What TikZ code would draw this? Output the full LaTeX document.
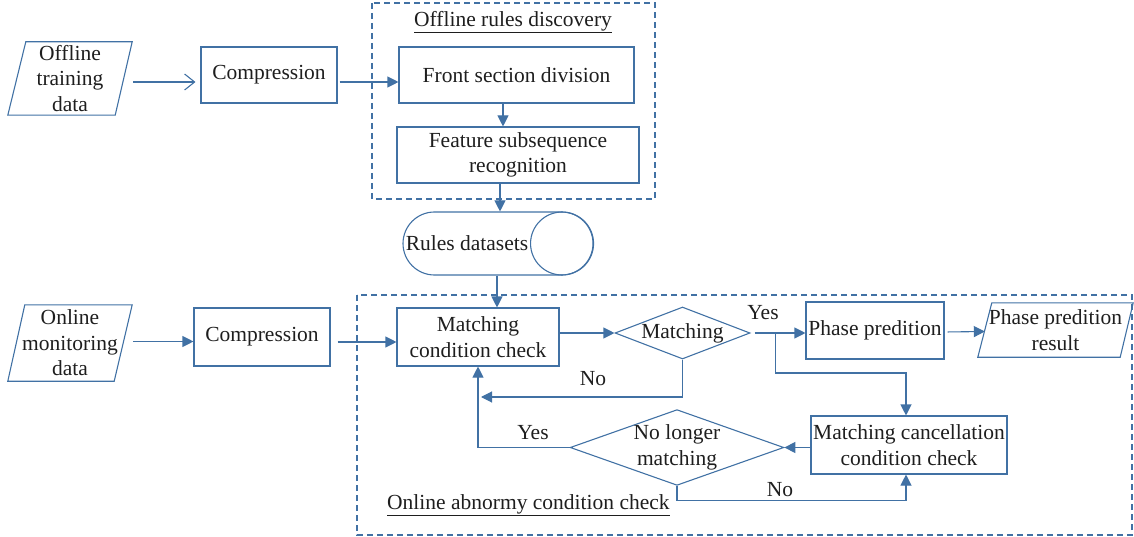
\documentclass[tikz,border=0pt]{standalone}
\usepackage{fontspec}
\setmainfont{Liberation Serif}
\usetikzlibrary{shapes.geometric,arrows.meta,calc}
\definecolor{lc}{RGB}{65,113,164}
\definecolor{tc}{RGB}{30,30,30}
\begin{document}
\begin{tikzpicture}[x=1pt,y=-1pt,
  line/.style={draw=lc, line width=1.1pt},
  arr/.style={line, -{Triangle[length=11pt,width=11pt]}},
  oarr/.style={line, -{Straight Barb[length=10pt,width=16pt,line width=1.1pt]}},
  box/.style={line, rectangle, inner sep=0pt, align=center},
  dia/.style={line, diamond, inner sep=0pt, align=center},
  txt/.style={inner sep=0pt, align=center},
  frame/.style={draw=lc, line width=1.1pt, dash pattern=on 6pt off 4pt},
  font=\fontsize{21.5}{25.5}\selectfont, text=tc]

\useasboundingbox (0,0) rectangle (1134,537);

% frames
\draw[frame] (372,3) rectangle (655,199);
\draw[frame] (357,295) rectangle (1132,535);

% offline part
\node[txt, minimum width=124pt, minimum height=73pt] (otd) at (70,78.5) {Offline\\training\\data};
\node[box, minimum width=136pt, minimum height=56pt] (comp1) at (269,75) {Compression};
\node[box, minimum width=235pt, minimum height=56pt] (front) at (516.5,75) {Front section division};
\node[box, minimum width=242pt, minimum height=56pt] (feat) at (518,155) {Feature subsequence\\recognition};
\node[txt] (t1) at (513,22) {\underline{Offline rules discovery}};
\node[line, rounded corners=31.5pt, minimum width=190pt, minimum height=63pt, inner sep=0pt] (rules) at (498,243.5) {Rules datasets\hspace*{62pt}};
\draw[line] ([xshift=-31.5pt]rules.east) circle[radius=31.5pt];

% online part
\node[txt, minimum width=124pt, minimum height=76pt] (omd) at (70,343) {Online\\monitoring\\data};
\node[box, minimum width=136pt, minimum height=58pt] (comp2) at (262,337) {Compression};
\node[box, minimum width=162pt, minimum height=58pt] (mcc) at (478,337) {Matching\\condition check};
\node[dia, minimum width=135pt, minimum height=52pt, aspect=2.6] (match) at (682.5,333) {Matching};
\node[box, minimum width=138pt, minimum height=57pt] (pp) at (875,330.5) {Phase predition};
\node[txt, minimum width=155pt, minimum height=54pt] (ppr) at (1055.5,330) {Phase predition\\result};
\node[box, minimum width=196pt, minimum height=58pt] (mcnc) at (909,445) {Matching cancellation\\condition check};
\node[dia, minimum width=206pt, minimum height=73pt, aspect=2.82] (nlm) at (677,447.5) {No longer\\matching};
\node[txt, anchor=west] (t2) at (387,505) {\underline{Online abnormy condition check}};
\node[txt] (yes1) at (763,313) {Yes};
\node[txt] (no1) at (593,379) {No};
\node[txt] (yes2) at (533,433) {Yes};
\node[txt] (no2) at (780,490) {No};
\coordinate (noend) at (481,397);

% parallelograms
\draw[line] (otd.south west) -- ([xshift=18pt]otd.north west) -- (otd.north east) -- ([xshift=-17pt]otd.south east) -- cycle;
\draw[line] (omd.south west) -- ([xshift=17pt]omd.north west) -- (omd.north east) -- ([xshift=-18pt]omd.south east) -- cycle;
\draw[line] (ppr.south west) -- ([xshift=14pt]ppr.north west) -- (ppr.north east) -- ([xshift=-13pt]ppr.south east) -- cycle;

% connectors offline
\draw[oarr, shorten <=1pt, shorten >=5pt] ([yshift=-3.5pt]otd.east) -- ([yshift=-7pt]comp1.west);
\draw[arr, shorten <=2pt] ([yshift=-7pt]comp1.east) -- ([yshift=-7pt]front.west);
\draw[arr] ([xshift=-13.5pt]front.south) -- ([xshift=-13.5pt]front.south |- feat.north);
\draw[arr] ([xshift=-18pt]feat.south) -- ([xshift=-18pt]feat.south |- rules.north);
\draw[arr] ([xshift=-1pt]rules.south) -- ([xshift=-1pt]rules.south |- mcc.north);

% connectors online
\draw[arr, shorten <=1pt] ([yshift=1.5pt]omd.east) -- ([yshift=1.5pt]omd.east -| comp2.west);
\draw[arr, shorten <=7pt] ([yshift=-5pt]comp2.east) -- ([yshift=-5pt]comp2.east -| mcc.west);
\draw[arr] (mcc.east |- match.west) -- (match.west);
\draw[arr, shorten <=4pt] (match.east) -- (match.east -| pp.west);
\draw[arr, shorten <=3pt] ([yshift=-1.5pt]pp.east) -- ([yshift=-1.5pt, xshift=7pt]ppr.west);
\draw[arr] ([xshift=25pt]match.east) -- ++(0,40) -| ([xshift=-3pt]mcnc.north);
\draw[arr] (nlm.east -| mcnc.west) -- (nlm.east);
\draw[arr] (nlm.west) -| (mcc.south);
\draw[arr] (match.south) |- (noend);
\draw[arr] (nlm.south) -- ++(0,15) -| ([xshift=-3pt]mcnc.south);
\end{tikzpicture}
\end{document}
